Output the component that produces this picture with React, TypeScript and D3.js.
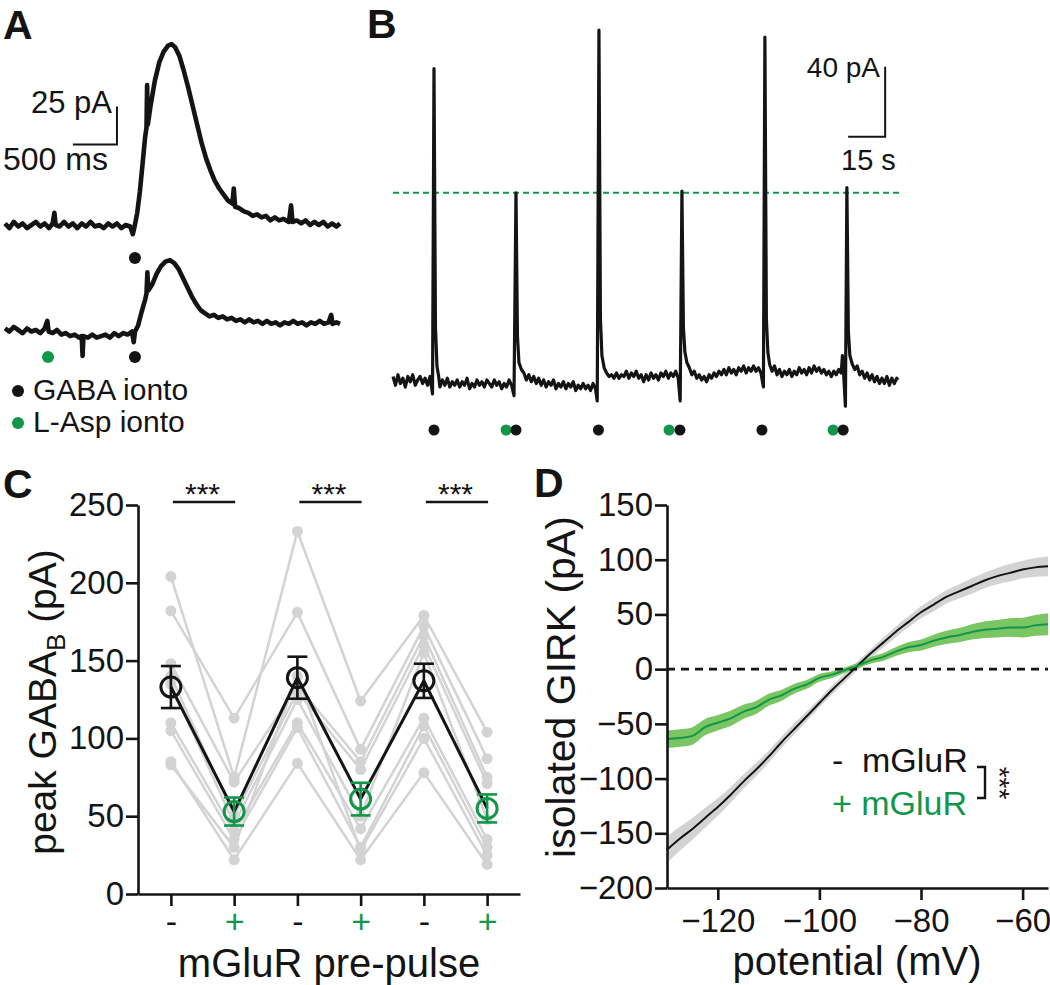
import React, { useEffect, useRef } from 'react';
import * as d3 from 'd3';

// Fuente y colores
const FONT = '"Liberation Sans", Arial, Helvetica, sans-serif';
const INK = '#141414';
const GREEN = '#11964a';
const LIGHT_GREEN = '#79c663';
const GREY = '#d3d3d3';

// ---- Panel A: corrientes (ms, pA sobre la linea base) ----
const aUpper: [number, number][] = [
  [0, 1], [50, -2], [100, 2], [150, -1], [200, 1], [250, -2], [300, 0], [350, 2], [400, -1], [450, 1],
  [500, -2], [540, 1], [560, 8], [575, 0], [620, -1], [670, 2], [720, -1], [770, 1], [820, -2], [870, 1],
  [920, -1], [970, 2], [1020, -1], [1070, 0], [1120, -2], [1170, 1], [1220, -1], [1270, 1], [1320, -2],
  [1370, 0], [1420, -1], [1450, -6], [1470, -1], [1500, 8], [1530, 22], [1560, 40], [1590, 58], [1605, 64],
  [1612, 92], [1620, 66], [1650, 78], [1700, 95], [1750, 107], [1800, 114], [1850, 118], [1890, 119],
  [1930, 117], [1980, 111], [2030, 101], [2080, 90], [2130, 78], [2180, 66], [2230, 54], [2280, 44],
  [2330, 36], [2380, 29], [2430, 24], [2480, 20], [2530, 16], [2580, 14], [2595, 24], [2610, 12],
  [2660, 11], [2710, 9], [2760, 8], [2810, 6], [2860, 7], [2910, 5], [2960, 6], [3010, 3], [3060, 5],
  [3110, 3], [3160, 4], [3220, 2], [3245, 13], [3260, 2], [3310, 3], [3360, 1], [3410, 3], [3460, 0],
  [3510, 2], [3560, 0], [3610, 2], [3660, -1], [3710, 1], [3760, -1], [3800, 1],
];
const aLower: [number, number][] = [
  [0, 1], [50, -1], [100, 2], [150, 0], [200, -2], [250, 1], [300, -1], [350, 0], [400, -2], [450, 1],
  [480, 6], [495, -1], [540, -2], [590, 0], [640, -3], [690, -2], [740, -4], [790, -3], [840, -5],
  [870, -4], [880, -17], [890, -4], [940, -5], [990, -3], [1040, -5], [1090, -4], [1140, -3], [1190, -5],
  [1240, -2], [1290, -4], [1340, -2], [1390, -3], [1440, -1], [1460, -8], [1475, -1], [1510, 3],
  [1550, 12], [1590, 20], [1605, 24], [1615, 38], [1625, 26], [1670, 30], [1720, 37], [1770, 42],
  [1820, 45], [1870, 46], [1920, 44], [1970, 40], [2020, 34], [2070, 28], [2120, 22], [2170, 17],
  [2220, 13], [2270, 11], [2320, 9], [2370, 10], [2420, 8], [2470, 9], [2520, 7], [2570, 8], [2620, 6],
  [2670, 7], [2720, 5], [2770, 7], [2820, 5], [2870, 6], [2920, 4], [2970, 6], [3020, 4], [3070, 5],
  [3120, 3], [3170, 5], [3220, 4], [3270, 6], [3320, 4], [3370, 5], [3420, 3], [3470, 5], [3520, 4],
  [3570, 6], [3620, 4], [3670, 5], [3700, 10], [3715, 4], [3760, 5], [3800, 4],
];
const aGabaUpper = [1474];
const aGabaLower = [1474];
const aAspLower = [488];

// ---- Panel B: registro largo (s, pA) ----
const bTrace: [number, number][] = [
  [0, 2], [1, -3], [2, 3], [3, -2], [4, 1], [5, -4], [6, 2], [7, -1], [8, 3], [9, -3], [10, 0], [11, 2],
  [12, -2], [13, 1], [14, -3], [15, 2], [16, -8], [16.6, 178], [17.2, 30], [17.8, 8], [18.5, 2], [19, -4],
  [20, 0], [21, -3], [22, 1], [23, -4], [24, -1], [25, -3], [26, 0], [27, -4], [28, -1], [29, -3], [30, 1],
  [31, -5], [32, -2], [33, -4], [34, 0], [35, -3], [36, -1], [37, -4], [38, 0], [39, -2], [40, -4], [41, 0],
  [42, -3], [43, -1], [44, -5], [45, -2], [46, -4], [47, 0], [48, -3], [49, -9], [49.8, 107], [50.4, 25],
  [51, 10], [52, 6], [53, 4], [54, 0], [55, 3], [56, -1], [57, 2], [58, -2], [59, 1], [60, -3], [61, 0],
  [62, -4], [63, -1], [64, -3], [65, 0], [66, -5], [67, -2], [68, -4], [69, -1], [70, -5], [71, -2],
  [72, -4], [73, -1], [74, -6], [75, -3], [76, -5], [77, -2], [78, -5], [79, -3], [80, -6], [81, -2],
  [82, -5], [82.7, -12], [83.4, 200], [84, 35], [84.6, 14], [85.5, 7], [86.5, 4], [87.5, 2], [88.5, 3],
  [89.5, 1], [90.5, 4], [91.5, 1], [92.5, 3], [93.5, 2], [94.5, 5], [95.5, 1], [96.5, 4], [97.5, 2],
  [98.5, 5], [99.5, 1], [100.5, 3], [101.5, -1], [102.5, 3], [103.5, 0], [104.5, 4], [105.5, 1],
  [106.5, 3], [107.5, 0], [108.5, 4], [109.5, 2], [110.5, 5], [111.5, 1], [112.5, 4], [113.5, 2],
  [114.5, 5], [115.5, 1], [116.3, -12], [117, 108], [117.6, 30], [118.2, 16], [119, 10], [120, 7],
  [121, 3], [122, 5], [123, 1], [124, 3], [125, 0], [126, 2], [127, -1], [128, 3], [129, 1], [130, 4],
  [131, 2], [132, 5], [133, 3], [134, 6], [135, 3], [136, 7], [137, 4], [138, 6], [139, 3], [140, 7],
  [141, 5], [142, 8], [143, 4], [144, 7], [145, 5], [146, 8], [147, 5], [148, 7], [149, 4], [150, -4],
  [150.6, 196], [151.2, 35], [151.8, 16], [152.5, 9], [153.5, 5], [154.5, 8], [155.5, 3], [156.5, 6],
  [157.5, 2], [158.5, 5], [159.5, 3], [160.5, 6], [161.5, 2], [162.5, 5], [163.5, 3], [164.5, 7],
  [165.5, 4], [166.5, 6], [167.5, 3], [168.5, 7], [169.5, 4], [170.5, 8], [171.5, 5], [172.5, 7],
  [173.5, 4], [174.5, 6], [175.5, 3], [176.5, 5], [177.5, 2], [178.5, 5], [179.5, 3], [180.5, 6],
  [181.5, 4], [182, 14], [182.5, 3], [183.2, -15], [183.8, 110], [184.4, 28], [185, 14], [186, 9],
  [187, 6], [188, 8], [189, 3], [190, 5], [191, 1], [192, 4], [193, 0], [194, 3], [195, -1], [196, 2],
  [197, -2], [198, 1], [199, -2], [200, 2], [201, -3], [202, 1], [203, -2], [204, 1], [204.5, 0],
];
const bGabaTimes = [16.6, 49.8, 83.2, 116.2, 149.4, 182.3];
const bAspTimes = [45.8, 111.8, 178.2];
const bThreshold = 107;

// ---- Panel C: pico GABA-B por celula ----
const cConditions = ['-1', '+1', '-2', '+2', '-3', '+3'];
const cMinus1 = [204, 182, 148, 140, 135, 110, 105, 85, 83];
const cPlus1 = [75, 113, 72, 50, 45, 40, 35, 22, 30];
const cMinus2 = [233, 181, 134, 130, 125, 110, 107, 84, 140];
const cPlus2 = [124, 93, 85, 80, 50, 42, 30, 22, 28];
const cMinus3 = [179, 172, 166, 160, 155, 113, 108, 78, 100];
const cPlus3 = [104, 87, 75, 71, 48, 35, 30, 19, 25];
const cMeans = [133, 53, 139, 61, 137, 55];
const cSem = [13.5, 9, 13.5, 10.5, 11, 9];
const cYTicks = [0, 50, 100, 150, 200, 250];

// ---- Panel D: curva I-V ----
const dVoltage = [
  -130, -127.5, -125, -122.5, -120, -117.5, -115, -112.5, -110, -107.5, -105, -102.5, -100, -97.5, -95,
  -92.5, -90, -87.5, -85, -82.5, -80, -77.5, -75, -72.5, -70, -67.5, -65, -62.5, -60, -57.5, -55,
];
const dControl = [
  -165, -155, -146, -136, -126, -115, -103, -92, -80, -67, -55, -43, -31, -19, -8,
  3, 14, 24, 34, 43, 52, 59, 66, 71, 76, 81, 85, 88, 91, 93, 94,
];
const dControlSem = [
  12, 11, 10, 9, 8, 7, 6.5, 6, 5.5, 5, 5, 4.5, 4, 4, 4,
  4, 4, 4.5, 5, 5, 5.5, 6, 6, 6.5, 7, 7, 7.5, 8, 8, 8.5, 9,
];
const dMglur = [
  -64, -63, -61, -53, -49, -45, -39, -35, -28, -24, -18, -14, -8, -5, -1,
  3, 8, 11, 16, 20, 22, 26, 29, 31, 34, 36, 37, 38, 38, 40, 41,
];
const dMglurSem = [
  8, 8, 8, 7.5, 7, 7, 6.5, 6, 5.5, 5, 4.5, 4, 3.5, 3, 2.5,
  2.5, 3, 3.5, 4, 4.5, 5, 5.5, 6, 6.5, 7, 7.5, 8, 8.5, 9, 9.5, 10,
];
const dYTicks = [-200, -150, -100, -50, 0, 50, 100, 150];
const dXTicks = [-120, -100, -80, -60];

// escalas
const xA = d3.scaleLinear().domain([0, 3800]).range([5, 340]);
const yAUp = d3.scaleLinear().domain([0, 25]).range([225, 187]);
const yALow = d3.scaleLinear().domain([0, 25]).range([330, 292]);

const xB = d3.scaleLinear().domain([0, 204.5]).range([393, 898]);
const yB = d3.scaleLinear().domain([0, 40]).range([380, 310]);

const xC = d3.scalePoint<string>().domain(cConditions).range([138, 520]).padding(0.52);
const yC = d3.scaleLinear().domain([0, 250]).range([894, 505]);

const xD = d3.scaleLinear().domain([-130, -55]).range([667, 1048]);
const yD = d3.scaleLinear().domain([-200, 150]).range([888, 505]);

const App: React.FC = () => {
  const cYRef = useRef<SVGGElement>(null);
  const cXRef = useRef<SVGGElement>(null);
  const dYRef = useRef<SVGGElement>(null);
  const dXRef = useRef<SVGGElement>(null);

  useEffect(() => {
    const style = (g: any, size: number) => {
      g.selectAll('path, line').attr('stroke', INK).attr('stroke-width', 2.6);
      g.selectAll('text').attr('font-family', FONT).attr('font-size', size).attr('fill', INK);
    };
    d3.select(cYRef.current!)
      .call(d3.axisLeft(yC).tickValues(cYTicks).tickSize(12).tickSizeOuter(0).tickPadding(2) as any)
      .call((g: any) => style(g, 33));
    d3.select(cXRef.current!)
      .call(d3.axisBottom(xC).tickSize(12).tickSizeOuter(0).tickPadding(3)
        .tickFormat((d) => (d.startsWith('+') ? '+' : '-')) as any)
      .call((g: any) => style(g, 34))
      .selectAll('text')
      .attr('fill', (d: any) => (d.startsWith('+') ? GREEN : INK));
    d3.select(dYRef.current!)
      .call(d3.axisLeft(yD).tickValues(dYTicks).tickSize(12).tickSizeOuter(0).tickPadding(2) as any)
      .call((g: any) => style(g, 33));
    d3.select(dXRef.current!)
      .call(d3.axisBottom(xD).tickValues(dXTicks).tickSize(12).tickSizeOuter(0).tickPadding(9) as any)
      .call((g: any) => style(g, 33));
  }, []);

  const lineA = (y: d3.ScaleLinear<number, number>) =>
    d3.line<[number, number]>().x((d) => xA(d[0])).y((d) => y(d[1]));
  const lineB = d3.line<[number, number]>().x((d) => xB(d[0])).y((d) => yB(d[1]));

  // celulas individuales
  const cCells = cMinus1.map((_, i) => [cMinus1[i], cPlus1[i], cMinus2[i], cPlus2[i], cMinus3[i], cPlus3[i]]);
  const cLine = d3.line<number>().x((_, i) => xC(cConditions[i])!).y((d) => yC(d));
  const cPairs = [[0, 1], [2, 3], [4, 5]];

  const dLine = (vals: number[]) =>
    d3.line<number>().curve(d3.curveMonotoneX).x((d) => xD(d)).y((_, i) => yD(vals[i]))(dVoltage) || '';
  const dArea = (vals: number[], sem: number[]) =>
    d3.area<number>().curve(d3.curveMonotoneX).x((d) => xD(d))
      .y0((_, i) => yD(vals[i] - sem[i])).y1((_, i) => yD(vals[i] + sem[i]))(dVoltage) || '';

  return (
    <svg width={1050} height={985} style={{ position: 'absolute', left: 0, top: 0, background: '#fff' }}
      fontFamily={FONT} fill={INK}>
      {/* letras de panel */}
      <text x={3} y={39} fontSize={41} fontWeight="bold">A</text>
      <text x={367} y={38} fontSize={41} fontWeight="bold">B</text>
      <text x={3} y={498} fontSize={41} fontWeight="bold">C</text>
      <text x={534} y={497} fontSize={41} fontWeight="bold">D</text>

      {/* Panel A */}
      <g fill="none" stroke={INK} strokeWidth={4.6} strokeLinejoin="round">
        <path d={lineA(yAUp)(aUpper) || ''} />
        <path d={lineA(yALow)(aLower) || ''} />
      </g>
      <path d={`M${xA(770)},${yAUp(53)}H${xA(1270)}V${yAUp(78)}`} fill="none" stroke={INK} strokeWidth={2} />
      <text x={112} y={113} fontSize={31} textAnchor="end">25 pA</text>
      <text x={3} y={170} fontSize={32}>500 ms</text>
      {aGabaUpper.map((t) => <circle key={'gu' + t} cx={xA(t)} cy={258} r={6} fill={INK} />)}
      {aGabaLower.map((t) => <circle key={'gl' + t} cx={xA(t)} cy={357} r={6} fill={INK} />)}
      {aAspLower.map((t) => <circle key={'al' + t} cx={xA(t)} cy={357} r={6} fill={GREEN} />)}
      <circle cx={18} cy={391} r={6} fill={INK} />
      <text x={33} y={400} fontSize={30}>GABA ionto</text>
      <circle cx={18} cy={423} r={6} fill={GREEN} />
      <text x={33} y={432} fontSize={30}>L-Asp ionto</text>

      {/* Panel B */}
      <line x1={xB.range()[0]} x2={xB.range()[1] + 2} y1={yB(bThreshold)} y2={yB(bThreshold)}
        stroke={GREEN} strokeWidth={2} strokeDasharray="6 4" />
      <path d={lineB(bTrace) || ''} fill="none" stroke={INK} strokeWidth={3.2} strokeLinejoin="round" />
      <path d={`M${xB(184.3)},${yB(139)}H${xB(199.3)}V${yB(179)}`} fill="none" stroke={INK} strokeWidth={2} />
      <text x={880} y={77} fontSize={28} textAnchor="end">40 pA</text>
      <text x={841} y={170} fontSize={29}>15 s</text>
      {bAspTimes.map((t) => <circle key={'ba' + t} cx={xB(t)} cy={430} r={5.5} fill={GREEN} />)}
      {bGabaTimes.map((t) => <circle key={'bg' + t} cx={xB(t)} cy={430} r={5.5} fill={INK} />)}

      {/* Panel C */}
      <g fill="none" stroke={GREY} strokeWidth={2.5}>
        {cCells.map((cell, i) => <path key={'cl' + i} d={cLine(cell) || ''} />)}
      </g>
      <g fill={GREY}>
        {cCells.map((cell, i) => cell.map((v, j) => (
          <circle key={`cp${i}-${j}`} cx={xC(cConditions[j])} cy={yC(v)} r={5.5} />
        )))}
      </g>
      <path d={cLine(cMeans) || ''} fill="none" stroke={INK} strokeWidth={3} />
      {cMeans.map((m, i) => {
        const x = xC(cConditions[i])!;
        const col = i % 2 === 0 ? INK : GREEN;
        return (
          <g key={'cm' + i} stroke={col} strokeWidth={2.6} fill="none">
            <line x1={x} x2={x} y1={yC(m - cSem[i])} y2={yC(m + cSem[i])} />
            <line x1={x - 10} x2={x + 10} y1={yC(m - cSem[i])} y2={yC(m - cSem[i])} />
            <line x1={x - 10} x2={x + 10} y1={yC(m + cSem[i])} y2={yC(m + cSem[i])} />
            <circle cx={x} cy={yC(m)} r={10} strokeWidth={3} />
          </g>
        );
      })}
      {cPairs.map(([a, b], i) => {
        const x0 = xC(cConditions[a])!;
        const x1 = xC(cConditions[b])!;
        return (
          <g key={'sig' + i}>
            <line x1={x0 + 2} x2={x1 + 1} y1={502} y2={502} stroke={INK} strokeWidth={2.6} />
            <text x={(x0 + x1) / 2} y={504} fontSize={30} textAnchor="middle">***</text>
          </g>
        );
      })}
      <g ref={cYRef} transform={`translate(${xC.range()[0]},0)`} />
      <g ref={cXRef} transform={`translate(0,${yC(0)})`} />
      <text transform="translate(56,702) rotate(-90)" fontSize={39} textAnchor="middle">
        peak GABA<tspan fontSize={26} dy={9}>B</tspan><tspan dy={-9}> (pA)</tspan>
      </text>
      <text x={329} y={977} fontSize={40} textAnchor="middle">mGluR pre-pulse</text>

      {/* Panel D */}
      <path d={dArea(dControl, dControlSem)} fill={GREY} stroke="none" />
      <path d={dArea(dMglur, dMglurSem)} fill={LIGHT_GREEN} stroke="none" />
      <line x1={xD(-130)} x2={xD(-55)} y1={yD(0)} y2={yD(0)} stroke={INK} strokeWidth={2.6} strokeDasharray="8 6" />
      <path d={dLine(dControl)} fill="none" stroke={INK} strokeWidth={2} />
      <path d={dLine(dMglur)} fill="none" stroke={GREEN} strokeWidth={2} />
      <g ref={dYRef} transform={`translate(${xD.range()[0]},0)`} />
      <g ref={dXRef} transform={`translate(0,${yD.range()[0]})`} />
      <text transform="translate(575,687) rotate(-90)" fontSize={41} textAnchor="middle">isolated GIRK (pA)</text>
      <text x={857} y={975} fontSize={40} textAnchor="middle">potential (mV)</text>
      <text x={832} y={772} fontSize={34}>-</text>
      <text x={862} y={772} fontSize={34}>mGluR</text>
      <text x={832} y={815} fontSize={34} fill={GREEN}>+ mGluR</text>
      <path d="M977,767H985V798H977" fill="none" stroke={INK} strokeWidth={2.4} />
      <text transform="translate(990,783) rotate(90)" fontSize={28} textAnchor="middle">***</text>
    </svg>
  );
};

export default App;
